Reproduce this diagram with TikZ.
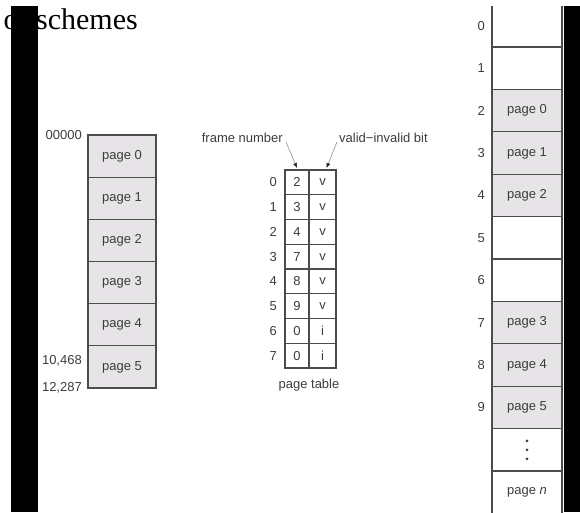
\documentclass[tikz,border=0pt]{standalone}
\usepackage{fontspec}
\setmainfont{Liberation Serif}
\newfontfamily\figsans{Liberation Sans}
\usetikzlibrary{arrows.meta,positioning}

\definecolor{pagegray}{HTML}{E6E4E6}
\definecolor{edgegray}{HTML}{4C4C4C}
\definecolor{inkgray}{HTML}{3C3C3C}

\tikzset{
  box/.style={draw=edgegray,line width=1.2pt,inner sep=0pt,outer sep=0pt,
    font=\figsans\fontsize{13}{13}\selectfont,text=inkgray},
  lpage/.style={box,fill=pagegray,minimum width=68pt,minimum height=42.17pt},
  fpage/.style={box,minimum width=70pt,minimum height=42.4pt},
  fused/.style={fpage,fill=pagegray},
  tcell/.style={box,minimum height=24.75pt},
  lbl/.style={inner sep=0pt,font=\figsans\fontsize{13}{13}\selectfont,text=inkgray},
  ptr/.style={gray,line width=0.5pt,-{Latex[length=5pt,width=4pt,color=black!85]}},
}

\begin{document}
\begin{tikzpicture}[x=1pt,y=-1pt]
\useasboundingbox (0,0) rectangle (580,512);
\clip (0,0) rectangle (580,512);

% Slide title, half hidden by the bar
\node[font=\fontsize{30}{30}\selectfont,anchor=base east,inner sep=0pt] (title) at (138,29) {or schemes};

% Logical memory
\foreach \i in {0,...,5}
  \node[lpage] (lp\i) at (122,156.08+42.17*\i) {page \i};
\node[lbl,left=6pt of lp0.north west] (a0) {00000};
\node[lbl,anchor=east] (a1) at (82,361) {10,468};
\node[lbl,left=6pt of lp5.south west] (a2) {12,287};

% Page table
\foreach \fn/\vb [count=\i from 0] in {2/v,3/v,4/v,7/v,8/v,9/v,0/i,0/i}{
  \node[tcell,minimum width=24pt] (f\i) at (297,182.4+24.75*\i) {\fn};
  \node[tcell,minimum width=27pt,right=0pt of f\i] (b\i) {\vb};
  \node[lbl,left=8pt of f\i] (r\i) {\i};
}
\node[lbl,anchor=east] (fnum) at (283,138) {frame number};
\node[lbl,anchor=west] (vbit) at (339,138) {valid−invalid bit};
\draw[ptr] ([xshift=3pt,yshift=-4pt]fnum.east) -- ([yshift=2pt]f0.north);
\draw[ptr] ([xshift=-2pt,yshift=-4pt]vbit.west) -- ([xshift=4pt,yshift=2pt]b0.north);
\node[lbl,below=11pt of f7.south east] (ptab) {page table};

% Physical memory
\begin{scope}
\clip (470,6) rectangle (575,512);
\foreach \st/\txt [count=\i from 0] in {fpage/{},fpage/{},fused/page 0,fused/page 1,fused/page 2,fpage/{},fpage/{},fused/page 3,fused/page 4,fused/page 5,fpage/{},fpage/{page \textit{n}}}
  \node[\st] (m\i) at (527,25.8+42.4*\i) {\txt};
\foreach \d in {-9,0,9}
  \fill[inkgray] ([yshift=\d pt]m10.center) circle (1.5pt);
\end{scope}
\foreach \i in {0,...,9}
  \node[lbl,left=7pt of m\i] (n\i) {\i};

% Black bars
\fill[black] (11,6) rectangle (38,512);
\fill[black] (564,6) rectangle (580,512);
\end{tikzpicture}
\end{document}
